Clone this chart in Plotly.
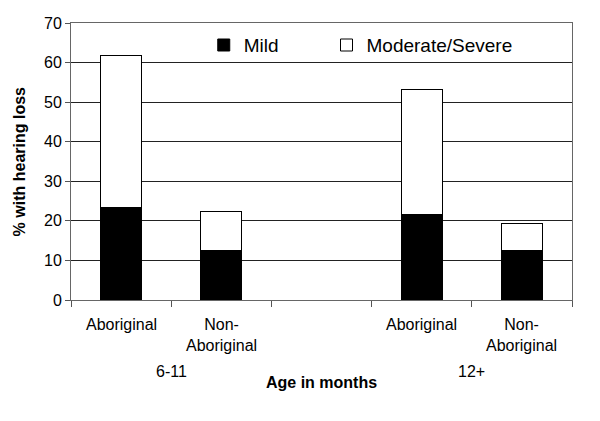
import plotly.graph_objects as go

groups = ["6-11", "12+"]
subgroups = ["Aboriginal", "Non-<br>Aboriginal"]
# x slot order: 6-11 Aboriginal, 6-11 Non-Aboriginal, (gap), 12+ Aboriginal, 12+ Non-Aboriginal
slots = [0, 1, 3, 4]
mild = [23.4, 12.6, 21.5, 12.6]
moderate_severe = [38.3, 9.8, 31.7, 6.7]
y_ticks = [0, 10, 20, 30, 40, 50, 60, 70]

FONT = "Liberation Sans, Arial, sans-serif"

fig = go.Figure()
fig.add_trace(go.Bar(x=slots, y=mild, name="Mild", width=0.41, legend="legend",
                     marker=dict(color="black", line=dict(color="black", width=1))))
fig.add_trace(go.Bar(x=slots, y=moderate_severe, name="Moderate/Severe", width=0.41,
                     legend="legend2",
                     marker=dict(color="white", line=dict(color="black", width=1))))

leg_common = dict(orientation="h", yanchor="middle", xanchor="left",
                  font=dict(size=19), bgcolor="rgba(0,0,0,0)")
fig.update_layout(
    width=600, height=421,
    margin=dict(l=63, r=36, t=15, b=129, autoexpand=False),
    barmode="stack",
    plot_bgcolor="white", paper_bgcolor="white",
    font=dict(family=FONT, size=16, color="black"),
    showlegend=True,
    legend=dict(x=0.265, y=0.92, **leg_common),
    legend2=dict(x=0.51, y=0.92, **leg_common),
)
fig.update_xaxes(range=[-0.5, 4.5], tickmode="array",
                 tickvals=[-0.5, 0.5, 1.5, 2.5, 3.5, 4.5], ticktext=[""] * 6,
                 ticks="outside", ticklen=6, tickcolor="#555", showgrid=False, automargin=False,
                 showline=True, linecolor="#666", linewidth=1, mirror=True, zeroline=False)
fig.update_yaxes(range=[0, 70], tickmode="array", tickvals=y_ticks, automargin=False,
                 ticks="outside", ticklen=5, tickcolor="#555",
                 showgrid=True, gridcolor="#222", gridwidth=1,
                 showline=True, linecolor="#666", linewidth=1, mirror=True, zeroline=False,
                 tickfont=dict(size=16))

# subgroup labels
for gi, g in enumerate(groups):
    for si, s in enumerate(subgroups):
        xpos = slots[gi * 2 + si]
        fig.add_annotation(x=xpos, y=0, xref="x", yref="paper", text=s, showarrow=False,
                           xanchor="center", yanchor="top", yshift=-14,
                           font=dict(size=16), align="center")
    center = (slots[gi * 2] + slots[gi * 2 + 1]) / 2
    fig.add_annotation(x=center, y=0, xref="x", yref="paper", text=g, showarrow=False,
                       xanchor="center", yanchor="top", yshift=-61, font=dict(size=16))

fig.add_annotation(x=0.5, y=0, xref="paper", yref="paper", text="<b>Age in months</b>",
                   showarrow=False, xanchor="center", yanchor="top", yshift=-72,
                   font=dict(size=16))
fig.add_annotation(x=-0.102, y=0.5, xref="paper", yref="paper", text="<b>% with hearing loss</b>",
                   showarrow=False, textangle=-90, xanchor="center", yanchor="middle",
                   font=dict(size=16))

fig.write_html("out.html")
